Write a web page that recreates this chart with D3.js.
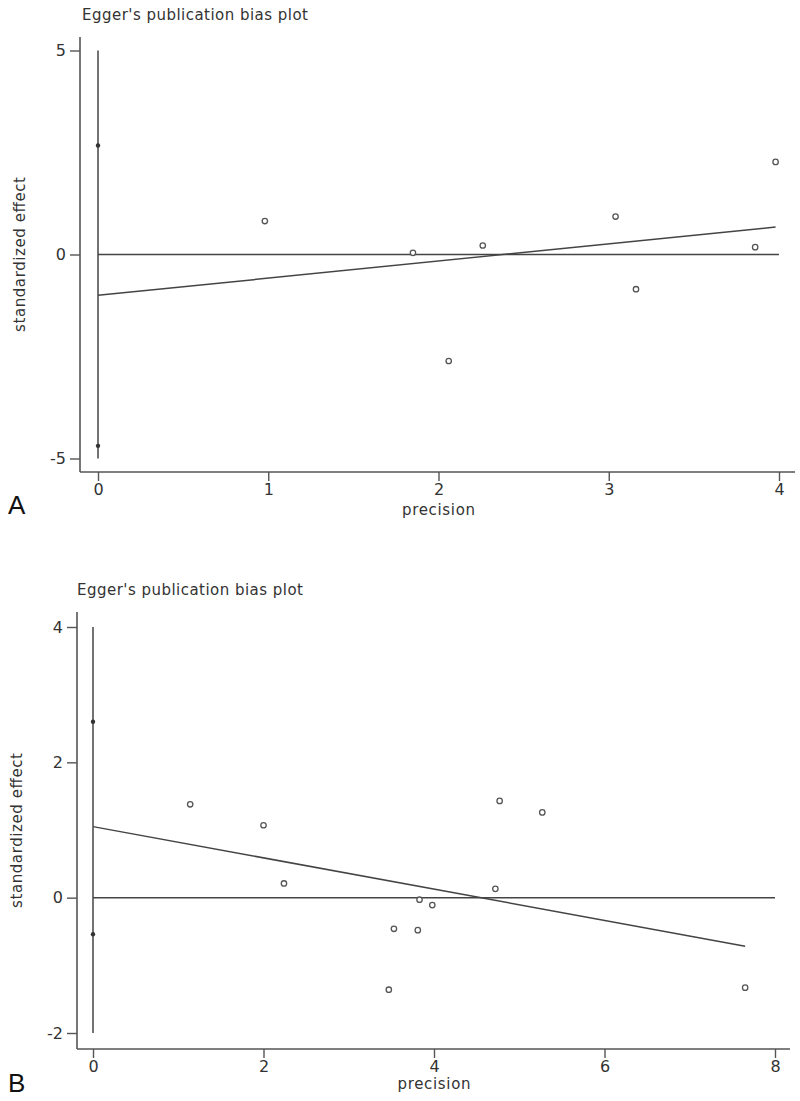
<!DOCTYPE html>
<html><head><meta charset="utf-8">
<script src="https://cdn.jsdelivr.net/npm/d3@7"></script>
<style>body{margin:0;background:#fff}svg{display:block}</style>
</head><body>
<script>
// ---- Data ----
const titleText = "Egger's publication bias plot";
const xLabel = "precision";
const yLabel = "standardized effect";

// Panel A
const precisionA = [0.98, 1.85, 2.26, 3.04, 3.86, 3.98, 2.06, 3.16];
const effectA    = [0.82, 0.04, 0.22, 0.93, 0.18, 2.27, -2.61, -0.85];
const interceptDotsA = [2.67, -4.69];
const ciA = [-5, 5];
const regA = {intercept: -1.0, slope: 0.42, xEnd: 3.98};
const xTicksA = [0, 1, 2, 3, 4];
const yTicksA = [-5, 0, 5];

// Panel B
const precisionB = [1.14, 2.0, 2.24, 3.53, 3.47, 3.83, 3.98, 3.81, 4.72, 4.77, 5.27, 7.65];
const effectB    = [1.38, 1.07, 0.21, -0.46, -1.36, -0.03, -0.11, -0.48, 0.13, 1.43, 1.26, -1.33];
const interceptDotsB = [2.6, -0.54];
const ciB = [-2, 4];
const regB = {intercept: 1.05, slope: -0.231, xEnd: 7.65};
const xTicksB = [0, 2, 4, 6, 8];
const yTicksB = [-2, 0, 2, 4];

const W = 800, H = 1101;
const svg = d3.select("body").append("svg").attr("width", W).attr("height", H);
const FONT = "DejaVu Sans, sans-serif";
const ink = "#444";

function panel(cfg) {
  const g = svg.append("g");
  const x = d3.scaleLinear().domain(cfg.xDomain).range(cfg.xRange);
  const y = d3.scaleLinear().domain(cfg.yDomain).range(cfg.yRange);

  // title
  g.append("text").attr("x", cfg.titleX).attr("y", cfg.titleY)
    .attr("font-family", FONT).attr("font-size", 15).attr("fill", "#333")
    .attr("textLength", cfg.titleLen).attr("lengthAdjust", "spacing")
    .text(titleText);

  // axis lines
  g.append("line").attr("x1", cfg.axisX).attr("x2", cfg.axisX)
    .attr("y1", cfg.axisTop).attr("y2", cfg.axisY)
    .attr("stroke", "#555").attr("stroke-width", 1.6);
  g.append("line").attr("x1", cfg.axisX).attr("x2", cfg.axisRight)
    .attr("y1", cfg.axisY).attr("y2", cfg.axisY)
    .attr("stroke", "#555").attr("stroke-width", 1.6);

  const fmt = d => String(d);

  // y axis ticks
  const yAx = d3.axisLeft(y).tickValues(cfg.yTicks).tickSize(10).tickPadding(4).tickFormat(fmt);
  const ga = g.append("g").attr("transform", `translate(${cfg.axisX},0)`).call(yAx);
  ga.select(".domain").remove();
  ga.selectAll("line").attr("stroke", "#555").attr("stroke-width", 1.4);
  ga.selectAll("text").attr("font-family", FONT).attr("font-size", 16).attr("fill", "#333");

  // x axis ticks
  const xAx = d3.axisBottom(x).tickValues(cfg.xTicks).tickSize(9).tickPadding(3).tickFormat(fmt);
  const gx = g.append("g").attr("transform", `translate(0,${cfg.axisY})`).call(xAx);
  gx.select(".domain").remove();
  gx.selectAll("line").attr("stroke", "#555").attr("stroke-width", 1.4);
  gx.selectAll("text").attr("font-family", FONT).attr("font-size", 16).attr("fill", "#333");

  // axis titles
  g.append("text").attr("x", (cfg.xRange[0] + cfg.xRange[1]) / 2).attr("y", cfg.xLabelY)
    .attr("text-anchor", "middle").attr("font-family", FONT).attr("font-size", 15).attr("fill", "#333")
    .attr("textLength", 73).attr("lengthAdjust", "spacing")
    .text(xLabel);
  const cy = (cfg.axisTop + cfg.axisY) / 2;
  g.append("text").attr("transform", `translate(${cfg.yLabelX},${cy}) rotate(-90)`)
    .attr("text-anchor", "middle").attr("font-family", FONT).attr("font-size", 15).attr("fill", "#333")
    .attr("textLength", 155).attr("lengthAdjust", "spacing")
    .text(yLabel);

  // panel letter
  g.append("text").attr("x", 8).attr("y", cfg.letterY)
    .attr("font-family", "Liberation Sans, Arial, sans-serif").attr("font-size", 26).attr("fill", "#111")
    .text(cfg.letter);

  // CI vertical line at precision 0
  g.append("line").attr("x1", x(0)).attr("x2", x(0))
    .attr("y1", y(cfg.ci[0])).attr("y2", y(cfg.ci[1]))
    .attr("stroke", ink).attr("stroke-width", 1.5);

  // zero line
  g.append("line").attr("x1", x(cfg.xDomain[0])).attr("x2", x(cfg.xDomain[1]))
    .attr("y1", y(0)).attr("y2", y(0))
    .attr("stroke", ink).attr("stroke-width", 1.5);

  // regression line
  const r = cfg.reg;
  const lineGen = d3.line().x(d => x(d)).y(d => y(r.intercept + r.slope * d));
  g.append("path").attr("d", lineGen([0, r.xEnd]))
    .attr("fill", "none").attr("stroke", ink).attr("stroke-width", 1.5);

  // intercept dots
  g.selectAll(".idot").data(cfg.dots).enter().append("circle")
    .attr("cx", x(0)).attr("cy", d => y(d)).attr("r", 2.2)
    .attr("fill", "#333");

  // study points
  const pts = cfg.px.map((p, i) => [p, cfg.py[i]]);
  g.selectAll(".pt").data(pts).enter().append("circle")
    .attr("cx", d => x(d[0])).attr("cy", d => y(d[1])).attr("r", 2.7)
    .attr("fill", "#fff").attr("stroke", "#555").attr("stroke-width", 1.3);
}

panel({
  letter: "A", letterY: 514,
  titleX: 82, titleY: 20, titleLen: 226,
  xDomain: [0, 4], xRange: [98, 779],
  yDomain: [-5, 5], yRange: [458.5, 50.5],
  axisX: 80, axisTop: 37, axisY: 472, axisRight: 795,
  xLabelY: 515, yLabelX: 25,
  xTicks: xTicksA, yTicks: yTicksA,
  ci: ciA, reg: regA, dots: interceptDotsA,
  px: precisionA, py: effectA
});

panel({
  letter: "B", letterY: 1092,
  titleX: 77, titleY: 595, titleLen: 226,
  xDomain: [0, 8], xRange: [93, 775],
  yDomain: [-2, 4], yRange: [1033, 627],
  axisX: 77, axisTop: 612, axisY: 1049, axisRight: 790,
  xLabelY: 1089, yLabelX: 22,
  xTicks: xTicksB, yTicks: yTicksB,
  ci: ciB, reg: regB, dots: interceptDotsB,
  px: precisionB, py: effectB
});
</script>
</body></html>
